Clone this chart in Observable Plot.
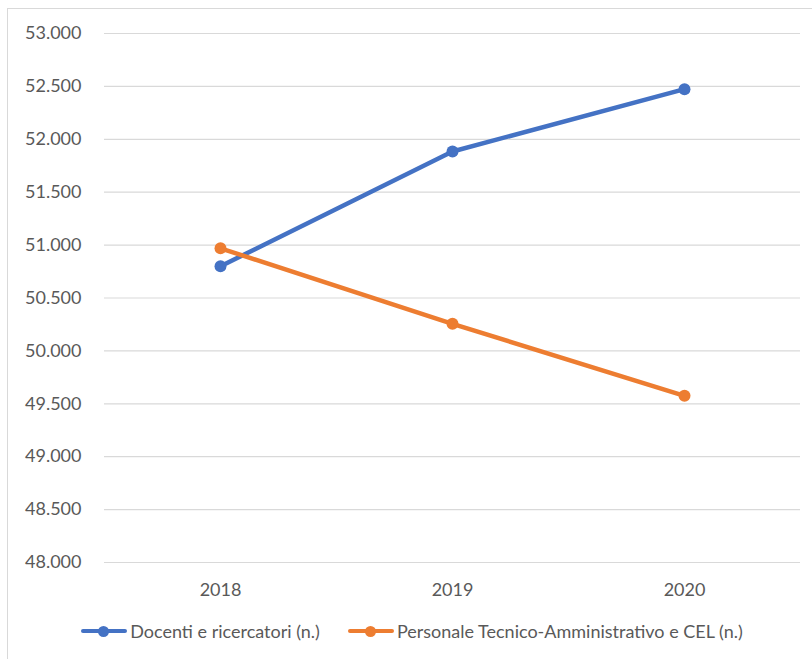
<!DOCTYPE html>
<html>
<head>
<meta charset="utf-8">
<script src="https://cdn.jsdelivr.net/npm/d3@7"></script>
<script src="https://cdn.jsdelivr.net/npm/@observablehq/plot@0.6"></script>
<style>
  html, body { margin: 0; padding: 0; background: #fff; }
  #wrap { position: relative; width: 812px; height: 659px; overflow: hidden; font-family: Lato, "Open Sans", sans-serif; }
  #frame { position: absolute; left: 7px; top: 8px; width: 820px; height: 670px; border: 1px solid #d9d9d9; box-sizing: border-box; }
  #chart { position: absolute; left: 0; top: 0; }
  #legend { position: absolute; left: 6px; width: 812px; top: 620px; display: flex; justify-content: center; gap: 28px; color: #595959; font-size: 18px; }
  .item { display: flex; align-items: center; }
  .sw { position: relative; width: 46px; height: 20px; margin-right: 3px; }
  .sw .ln { position: absolute; left: 0; right: 0; top: 8px; height: 4px; border-radius: 2px; }
  .sw .dt { position: absolute; left: 17px; top: 5px; width: 11px; height: 11px; border-radius: 50%; }
</style>
</head>
<body>
<div id="wrap">
  <div id="frame"></div>
  <div id="chart"></div>
  <div id="legend"></div>
</div>
<script>
// Personale dell'ateneo per anno
const years = ["2018", "2019", "2020"];
const docenti = [50800, 51885, 52474];
const personaleTA = [50970, 50256, 49575];
const seriesNames = ["Docenti e ricercatori (n.)", "Personale Tecnico-Amministrativo e CEL (n.)"];
const seriesColors = ["#4472C4", "#ED7D31"];
const yTicks = [48000, 48500, 49000, 49500, 50000, 50500, 51000, 51500, 52000, 52500, 53000];

const rows = [
  ...years.map((year, i) => ({year, value: docenti[i], serie: seriesNames[0]})),
  ...years.map((year, i) => ({year, value: personaleTA[i], serie: seriesNames[1]}))
];

const it = d3.formatLocale({decimal: ",", thousands: ".", grouping: [3], currency: ["€", ""]});
const fmt = it.format(",d");

const chart = Plot.plot({
  width: 812,
  height: 610,
  marginLeft: 104,
  marginRight: 12,
  marginTop: 33,
  marginBottom: 48,
  style: {fontFamily: "Lato, 'Open Sans', sans-serif", fontSize: "18px", color: "#595959", background: "transparent"},
  x: {type: "point", domain: years, padding: 0.5, label: null},
  y: {domain: [48000, 53000], label: null},
  color: {domain: seriesNames, range: seriesColors},
  marks: [
    Plot.gridY(yTicks, {stroke: "#d9d9d9", strokeOpacity: 1, strokeWidth: 1.2}),
    Plot.axisY(yTicks, {tickSize: 0, tickPadding: 23, tickFormat: fmt, fill: "#595959", fontSize: 18}),
    Plot.axisX({tickSize: 0, tickPadding: 21, fill: "#595959", fontSize: 18}),
    Plot.line(rows, {x: "year", y: "value", z: "serie", stroke: "serie", strokeWidth: 4.5, strokeLinecap: "round"}),
    Plot.dot(rows, {x: "year", y: "value", fill: "serie", r: 6})
  ]
});
document.getElementById("chart").appendChild(chart);

// Legenda
const legend = d3.select("#legend");
seriesNames.forEach((name, i) => {
  const item = legend.append("div").attr("class", "item");
  const sw = item.append("div").attr("class", "sw");
  sw.append("div").attr("class", "ln").style("background", seriesColors[i]);
  sw.append("div").attr("class", "dt").style("background", seriesColors[i]);
  item.append("span").text(name);
});
</script>
</body>
</html>
